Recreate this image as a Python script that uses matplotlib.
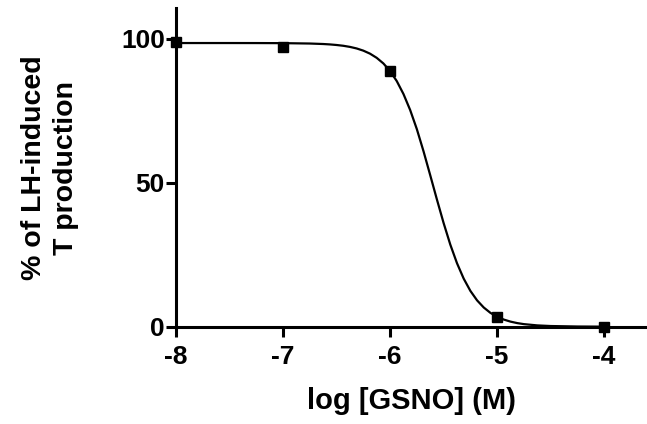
import numpy as np
import matplotlib.pyplot as plt

plt.rcParams['font.family'] = ['Liberation Sans', 'DejaVu Sans']
plt.rcParams['font.weight'] = 'bold'
plt.rcParams['axes.unicode_minus'] = False

# measured points
log_conc = [-8, -7, -6, -5, -4]
pct_prod = [98.7, 97.2, 88.9, 3.5, 0.0]

# fitted curve
curve_x = [-8.0, -7.5, -7.25, -7.0, -6.75, -6.625, -6.5625, -6.5, -6.4375, -6.375,
           -6.3125, -6.25, -6.1875, -6.125, -6.0625, -6.0, -5.9375, -5.875,
           -5.8125, -5.75, -5.6875, -5.625, -5.5625, -5.5, -5.4375, -5.375,
           -5.3125, -5.25, -5.1875, -5.125, -5.0625, -5.0, -4.9375, -4.875,
           -4.8125, -4.75, -4.625, -4.5, -4.25, -4.0]
curve_y = [98.5, 98.5, 98.49, 98.46, 98.33, 98.16, 98.02, 97.82, 97.55, 97.16,
           96.62, 95.86, 94.81, 93.36, 91.41, 88.77, 85.28, 80.8,
           75.25, 68.6, 60.9, 52.6, 44.17, 36.0, 28.51, 22.05,
           16.7, 12.44, 9.15, 6.66, 4.8, 3.46, 2.47, 1.76,
           1.25, 0.89, 0.45, 0.23, 0.06, 0.01]

fig = plt.figure(figsize=(6.47, 4.24), dpi=100)
ax = fig.add_axes([0.272, 0.2295, 0.728, 0.7505])

ax.plot(curve_x, curve_y, '-', color='black', lw=1.6, clip_on=False)
ax.plot(log_conc, pct_prod, 's', color='black', ms=6.5, clip_on=False, zorder=5)

ax.set_xlim(-8, -3.6)
ax.set_ylim(0, 110.5)
ax.set_xticks([-8, -7, -6, -5, -4])
ax.set_yticks([0, 50, 100])

for s in ['top', 'right']:
    ax.spines[s].set_visible(False)
for s in ['left', 'bottom']:
    ax.spines[s].set_linewidth(2.2)

ax.tick_params(width=2.2, length=7, labelsize=19)
ax.tick_params(axis='x', pad=6)
ax.tick_params(axis='y', pad=1)
for lbl in ax.get_xticklabels() + ax.get_yticklabels():
    lbl.set_fontweight('bold')

ax.set_xlabel('log [GSNO] (M)', fontsize=21, fontweight='bold', labelpad=13)
ax.set_ylabel('% of LH-induced\nT production', fontsize=20.5, fontweight='bold',
              labelpad=30, linespacing=1.3)

fig.savefig('out.png', dpi=100)
